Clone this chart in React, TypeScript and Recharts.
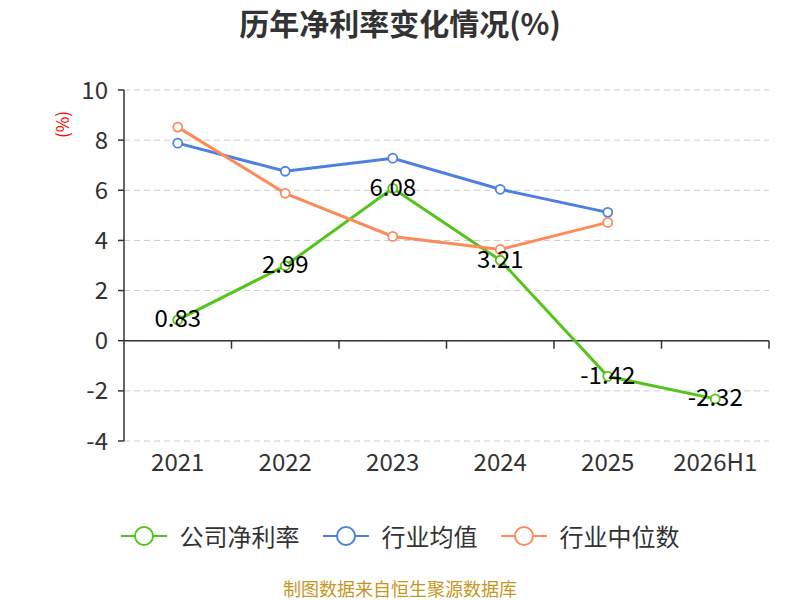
import { CartesianGrid, LabelList, Legend, Line, LineChart, ReferenceLine, XAxis, YAxis } from 'recharts';

const years = ['2021', '2022', '2023', '2024', '2025', '2026H1'];
const companyMargin = [0.83, 2.99, 6.08, 3.21, -1.42, -2.32];
const industryAvg = [7.88, 6.76, 7.28, 6.04, 5.12, null];
const industryMedian = [8.52, 5.88, 4.16, 3.64, 4.72, null];
const yTicks = [-4, -2, 0, 2, 4, 6, 8, 10];

const series = [
    { key: 'company', name: '公司净利率', color: '#52c41a' },
    { key: 'avg', name: '行业均值', color: '#4e80e2' },
    { key: 'median', name: '行业中位数', color: '#fd8b5a' },
];

const data = years.map((year, i) => ({
    year,
    company: companyMargin[i],
    avg: industryAvg[i],
    median: industryMedian[i],
}));

const font = '"Noto Sans CJK SC", "Noto Sans", sans-serif';

// zero line with the category separator ticks hanging below it
function ZeroAxis(props: any) {
    const { x1, y1, x2, y2 } = props;
    const step = (x2 - x1) / years.length;
    const marks = [];
    for (let i = 1; i <= years.length; i++) {
        const x = x1 + step * i;
        marks.push(<line key={i} x1={x} y1={y1} x2={x} y2={y1 + 8} stroke="#333" strokeWidth={1.5} />);
    }
    return (
        <g>
            <line x1={x1} y1={y1} x2={x2} y2={y2} stroke="#333" strokeWidth={1.5} />
            {marks}
        </g>
    );
}

function ValueLabel(props: any) {
    const { x, y, value } = props;
    if (value == null) return null;
    return (
        <text x={x} y={y - 3} textAnchor="middle" dominantBaseline="central" fontSize={24} fill="#000" fontFamily={font}>
            {value}
        </text>
    );
}

function LegendContent() {
    return (
        <div style={{ display: 'flex', justifyContent: 'center', gap: 23, fontFamily: font }}>
            {series.map((s) => (
                <div key={s.key} style={{ display: 'flex', alignItems: 'center', gap: 13 }}>
                    <svg width={46} height={22}>
                        <line x1={0} y1={11} x2={46} y2={11} stroke={s.color} strokeWidth={2} />
                        <circle cx={23} cy={11} r={9} fill="#fff" stroke={s.color} strokeWidth={2} />
                    </svg>
                    <span style={{ fontSize: 24, color: '#333' }}>{s.name}</span>
                </div>
            ))}
        </div>
    );
}

export default function App() {
    return (
        <div style={{ position: 'absolute', left: 0, top: 0, width: 800, height: 600, background: '#fff', fontFamily: font }}>
            <div style={{ position: 'absolute', top: 0, width: 800, textAlign: 'center', fontSize: 30, fontWeight: 'bold', color: '#333' }}>
                历年净利率变化情况(%)
            </div>
            <div
                style={{
                    position: 'absolute',
                    left: 48,
                    top: 112,
                    fontSize: 17,
                    color: '#f00',
                    transform: 'rotate(-90deg)',
                    transformOrigin: 'center',
                }}
            >
                (%)
            </div>
            <LineChart width={800} height={600} data={data} margin={{ top: 90, right: 31, bottom: 84, left: 4 }}>
                <CartesianGrid vertical={false} stroke="#ccc" strokeDasharray="6 4" />
                <XAxis
                    dataKey="year"
                    scale="band"
                    axisLine={false}
                    tickLine={false}
                    height={40}
                    tickMargin={7}
                    tick={{ fontSize: 24, fill: '#333', fontFamily: font }}
                />
                <YAxis
                    domain={[-4, 10]}
                    ticks={yTicks}
                    width={120}
                    tickSize={6}
                    tickMargin={10}
                    axisLine={{ stroke: '#333', strokeWidth: 1.5 }}
                    tickLine={{ stroke: '#333', strokeWidth: 1.5 }}
                    tick={{ fontSize: 24, fill: '#333', fontFamily: font }}
                />
                <ReferenceLine y={0} shape={ZeroAxis} />
                <Legend verticalAlign="bottom" wrapperStyle={{ bottom: 47, left: 0, width: 800 }} content={LegendContent} />
                {series.map((s) => (
                    <Line
                        key={s.key}
                        dataKey={s.key}
                        name={s.name}
                        stroke={s.color}
                        strokeWidth={3}
                        dot={{ r: 4.5, fill: '#fff', stroke: s.color, strokeWidth: 1.8 }}
                        activeDot={false}
                        isAnimationActive={false}
                    >
                        {s.key === 'company' && <LabelList dataKey="company" content={ValueLabel} />}
                    </Line>
                ))}
            </LineChart>
            <div style={{ position: 'absolute', top: 578, width: 800, textAlign: 'center', fontSize: 18, lineHeight: '20px', color: '#c8961e' }}>
                制图数据来自恒生聚源数据库
            </div>
        </div>
    );
}
